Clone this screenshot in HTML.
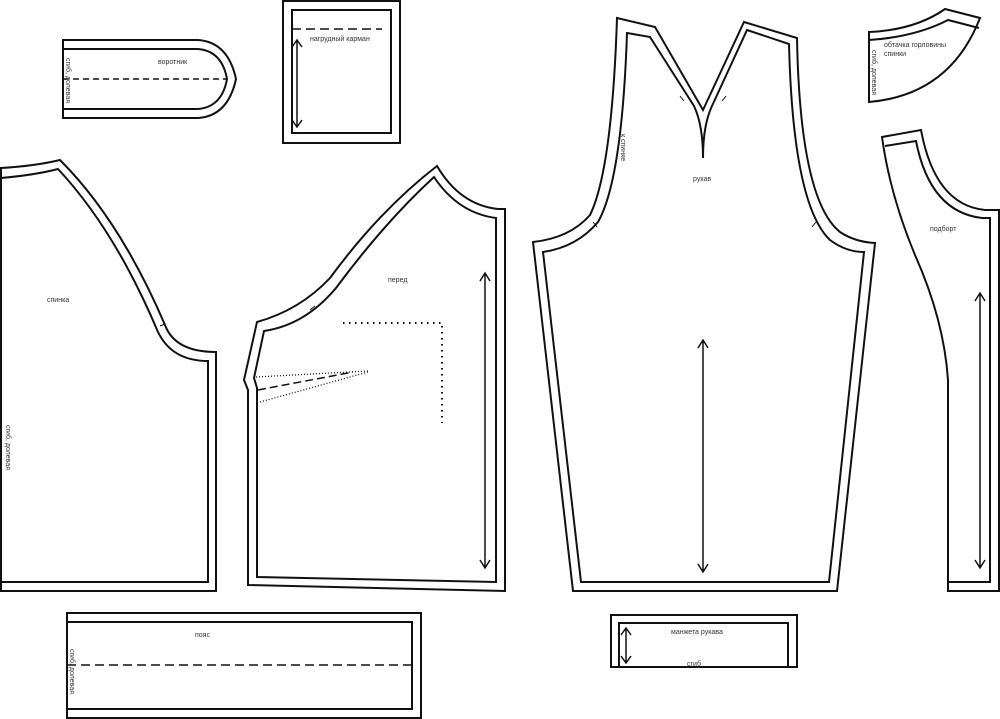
<!DOCTYPE html>
<html><head><meta charset="utf-8"><style>
html,body{margin:0;padding:0;background:#fff}
svg{display:block}
text{font-family:"Liberation Sans",sans-serif;font-size:7px;fill:#333}
</style></head><body>
<svg width="1000" height="719" viewBox="0 0 1000 719" xmlns="http://www.w3.org/2000/svg">
<g fill="none" stroke="#111" stroke-width="2" stroke-linejoin="miter">
<!-- collar -->
<path d="M63,40 H198 Q228,42 236,79 Q228,116 198,118 H63 Z"/>
<path d="M63,49 H198 Q222,51 227,79 Q222,107 198,109 H63"/>
<!-- pocket -->
<rect x="283" y="1" width="117" height="142"/>
<rect x="292" y="10" width="99" height="123"/>
<!-- back -->
<path d="M1,168 Q35,166 60,160 Q120,220 165,325 Q175,352 216,352 V591 H1 Z"/>
<path d="M1,178 Q35,175 58,169 Q115,230 158,332 Q172,361 208,361 V582 H1"/>
<!-- front -->
<path d="M437,166 Q460,205 498,209 H505 V591 L248,585 V390 L244,380 L257,322 Q300,310 330,278 Q380,210 437,166 Z"/>
<path d="M434,177 Q458,213 496,218 V582 L257,577 V388 L254,378 L264,331 Q305,325 336,288 Q385,222 434,177 Z"/>
<!-- sleeve -->
<path d="M617,18 L655,27 L703,110 L744,22 L797,38 Q800,200 840,232 Q855,242 875,243 L837,591 H573 L533,242 Q570,238 590,215 Q612,170 617,18 Z"/>
<path d="M627,33 L650,37 L694,106 Q703,125 703,158 Q703,125 712,106 L747,30 L789,44 Q793,205 830,240 Q846,252 864,252 L829,582 H581 L543,252 Q577,247 598,222 Q622,180 627,33 Z"/>
<!-- facing neck -->
<path d="M869,32 Q915,30 945,9 L980,18 Q950,95 869,102 Z"/>
<path d="M869,40 Q915,37 948,20 L979,28"/>
<!-- podbort -->
<path d="M882,137 L921,130 Q935,205 985,210 H999 V591 H948 V380 Q944,320 915,255 Q890,195 882,137 Z"/>
<path d="M885,146 L916,141 Q930,212 982,218 H990 V582 H948"/>
<!-- belt -->
<rect x="67" y="613" width="354" height="105"/>
<path d="M67,622 H412 V709 H67"/>
<!-- cuff -->
<path d="M611,667 V615 H797 V667 Z"/>
<path d="M619,667 V623 H788 V667"/>
</g>
<g fill="none" stroke="#111" stroke-width="1.5">
<path d="M63,79 H227" stroke-dasharray="6,4"/>
<path d="M292,29 H382" stroke-dasharray="9,5"/>
<path d="M67,665 H412" stroke-dasharray="9,5"/>
<path d="M258,390 L353,372" stroke-dasharray="8,4"/>
<path d="M343,323 H442 V423" stroke-dasharray="1.5,4.5" stroke-width="2"/>
<path d="M256,377 L368,371 M260,402 L368,372" stroke-dasharray="1,2" stroke-width="1.3"/>
<path d="M297,40 V127 M292,47 L297,40 L302,47 M292,120 L297,127 L302,120"/>
<path d="M485,273 V568 M480,281 L485,273 L490,281 M480,560 L485,568 L490,560"/>
<path d="M703,340 V572 M698,348 L703,340 L708,348 M698,564 L703,572 L708,564"/>
<path d="M980,293 V568 M975,301 L980,293 L985,301 M975,560 L980,568 L985,560"/>
<path d="M626,628 V663 M621,635 L626,628 L631,635 M621,656 L626,663 L631,656"/>
<path d="M160,326 L165,324 M310,310 L315,306 M680,96 L684,101 M722,101 L726,96 M593,222 L597,227 M812,227 L816,222" stroke-width="1"/>
</g>
<text x="158" y="64">воротник</text>
<text x="310" y="41">нагрудный карман</text>
<text x="47" y="302">спинка</text>
<text x="388" y="282">перед</text>
<text x="693" y="181">рукав</text>
<text x="884" y="47">обтачка горловины</text>
<text x="884" y="56">спинки</text>
<text x="930" y="231">подборт</text>
<text x="195" y="637">пояс</text>
<text x="671" y="634">манжета рукава</text>
<text x="687" y="666">сгиб</text>
<text transform="translate(66,58) rotate(90)">сгиб, долевая</text>
<text transform="translate(6,425) rotate(90)">сгиб, долевая</text>
<text transform="translate(70,649) rotate(90)">сгиб, долевая</text>
<text transform="translate(872,50) rotate(90)">сгиб, долевая</text>
<text transform="translate(621,134) rotate(90)">к спинке</text>
</svg>
</body></html>
